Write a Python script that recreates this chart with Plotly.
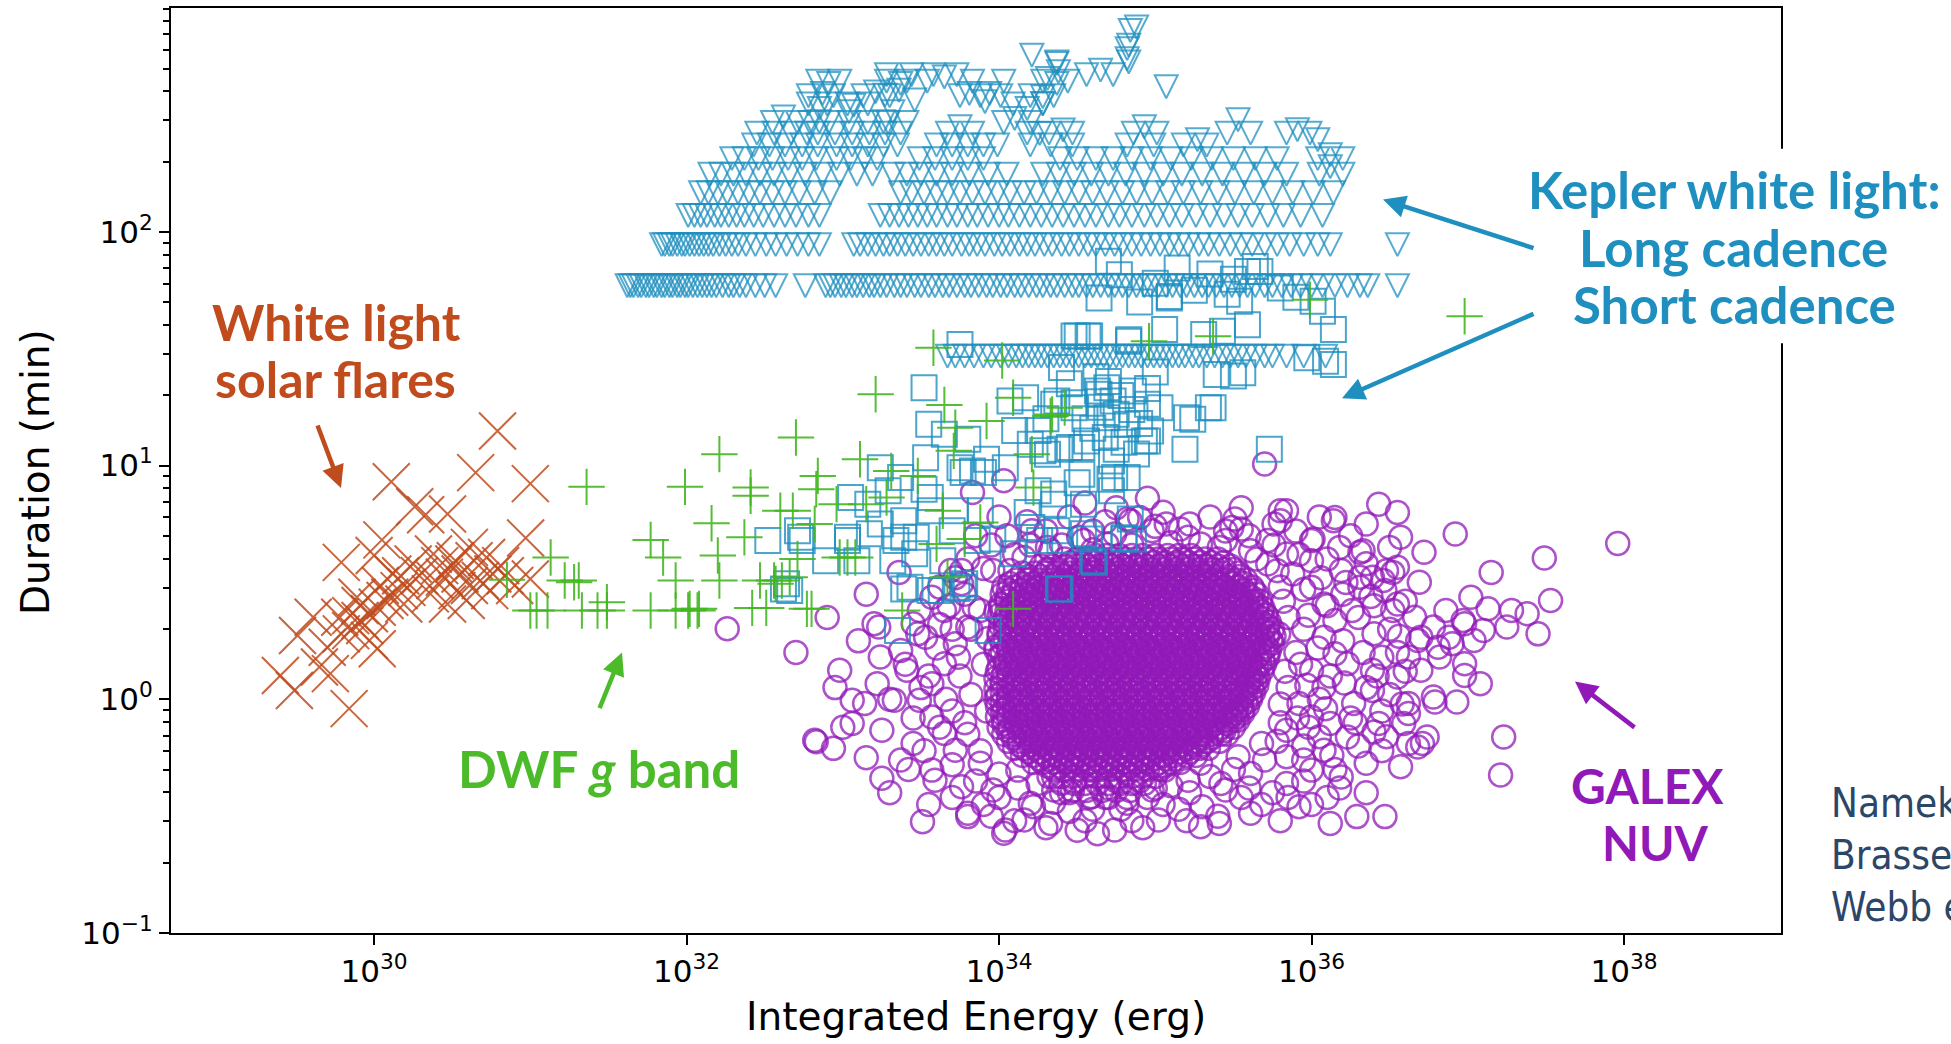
import plotly.graph_objects as go

# ---------------- data (log10 energy [erg], log10 duration [min]) ----------------
solar_pts = [(30.79,1.148),(30.11,0.931),(30.65,0.970),(31.00,0.923),(30.26,0.824),(30.33,0.790),(30.47,0.793),
 (30.05,0.682),(30.97,0.690),(29.79,0.586),(30.00,0.615),(30.25,0.579),(30.42,0.572),(30.45,0.522),(30.55,0.536),
 (30.64,0.593),(30.72,0.607),(30.68,0.508),(30.76,0.536),(31.00,0.515),(30.16,0.465),(30.10,0.437),(30.02,0.394),
 (29.97,0.366),(29.91,0.337),(29.85,0.294),(29.79,0.280),(29.51,0.273),(30.53,0.465),(30.59,0.423),(30.47,0.408),
 (30.36,0.451),(30.19,0.408),(29.97,0.252),(30.02,0.216),(29.70,0.223),(29.72,0.110),(29.65,0.138),(29.40,0.102),
 (29.49,0.038),(29.84,-0.040),(29.61,0.351),(30.12,0.536),(30.21,0.479),(30.61,0.650),(30.38,0.622),(30.51,0.579),
 (29.89,0.437),(29.78,0.351),(30.29,0.529),(30.39,0.508),(30.52,0.593),(30.81,0.572),(30.90,0.487),(30.07,0.423),
 (29.91,0.401),(29.85,0.358),(29.94,0.316),(30.04,0.487),(30.17,0.529),(30.61,0.487),(30.74,0.465),(30.84,0.529)]

dwf_pts = [(31.36,0.909),(31.99,0.909),(32.21,1.049),(32.41,0.906),(32.41,0.871),(32.16,0.753),(32.37,0.693),
 (31.77,0.682),(31.85,0.607),(32.20,0.615),(31.13,0.607),(30.85,0.511),(31.22,0.508),(31.31,0.508),(31.28,0.501),
 (31.93,0.508),(32.21,0.508),(32.47,0.508),(32.57,0.494),(31.49,0.415),(31.00,0.380),(31.04,0.380),(31.11,0.380),
 (31.33,0.380),(31.43,0.380),(31.49,0.380),(31.77,0.380),(31.93,0.380),(32.01,0.380),(32.07,0.380),(32.42,0.391),
 (32.51,0.391),(33.58,1.504),(34.02,1.450),(34.96,1.532),(33.21,1.305),(33.65,1.259),(34.09,1.290),(34.42,1.248),
 (34.33,1.212),(33.92,1.191),(33.72,1.162),(32.70,1.120),(33.71,1.063),(34.21,1.049),(33.11,1.027),(33.31,0.977),
 (32.84,0.956),(33.48,0.956),(32.83,0.899),(34.22,0.906),(32.96,0.835),(33.28,0.863),(32.60,0.807),(32.68,0.807),
 (33.15,0.835),(33.64,0.807),(33.88,0.757),(33.78,0.686),(33.60,0.665),(32.82,0.750),(32.71,0.600),(32.98,0.607),
 (33.03,0.607),(33.08,0.607),(32.56,0.508),(32.61,0.508),(32.66,0.522),(33.67,0.522),(32.02,0.387),(32.08,0.387),
 (32.77,0.387),(32.80,0.387),(33.38,0.380),(34.09,0.387),(35.99,1.710),(36.98,1.639),(35.37,1.553),(34.34,1.219)]

sc_pts = [(33.75,1.518),(33.52,1.333),(34.50,1.554),(34.57,1.554),(34.83,1.539),(33.55,1.177),(33.65,1.134),
 (33.80,1.113),(34.07,1.276),(34.17,1.290),(34.37,1.276),(34.48,1.248),(34.63,1.319),(34.73,1.276),(34.69,1.205),
 (34.82,1.177),(34.97,1.148),(34.20,1.091),(34.28,1.063),(34.45,1.077),(34.56,1.105),(34.75,1.070),(34.93,1.105),
 (33.92,1.027),(33.75,0.991),(33.53,1.034),(33.77,0.970),(33.83,0.977),(33.90,0.970),(34.04,0.991),(33.24,0.991),
 (33.37,0.949),(33.52,0.899),(33.56,0.863),(33.29,0.892),(33.16,0.835),(33.05,0.863),(34.25,0.892),(34.35,0.835),
 (34.50,0.927),(34.71,0.942),(34.82,0.949),(34.54,0.835),(34.18,0.799),(33.88,0.807),(33.72,0.807),(33.56,0.807),
 (33.39,0.764),(33.24,0.750),(33.03,0.693),(32.73,0.693),(32.71,0.721),(33.39,0.693),(33.47,0.693),(33.70,0.721),
 (33.96,0.686),(34.21,0.735),(34.37,0.721),(34.58,0.686),(34.86,0.686),(33.09,0.593),(32.89,0.593),(32.64,0.494),
 (32.62,0.472),(33.39,0.472),(33.56,0.465),(33.78,0.494),(34.39,0.472),(34.61,0.586),(33.93,0.294),(33.35,0.294),
 (33.32,0.593),(33.43,0.479),(33.77,0.479),(32.66,0.465),(32.52,0.679),(34.48,1.554),(34.58,1.554),(34.83,1.532),
 (35.06,1.582),(35.31,1.561),(35.43,1.575),(35.59,1.603),(36.07,1.660),(36.14,1.582),(36.09,1.447),(34.64,1.717),
 (35.09,1.724),(35.54,1.703),(35.39,1.390),(35.56,1.397),(34.35,1.262),(34.48,1.269),(34.69,1.333),(34.86,1.319),
 (34.95,1.262),(35.03,1.248),(35.24,1.198),(35.37,1.248),(35.19,1.070),(34.95,1.105),(34.53,1.077),(34.39,1.070),
 (34.31,1.049),(34.53,0.963),(34.74,0.949),(34.72,0.892),(34.35,0.878),(35.73,1.070),(34.84,0.771),(34.39,0.679),
 (34.60,0.593),(34.38,0.472),(34.80,0.686),(35.14,1.845),(34.77,1.817),(35.59,1.831),(35.67,1.831),(35.50,1.797),
 (35.09,1.717),(36.01,1.703),(34.70,1.874),(35.64,1.852),(35.46,1.733),(36.14,1.433),(35.97,1.461),(35.50,1.383),
 (35.34,1.248),(35.20,1.205),(34.64,1.305),(32.74,0.679),(33.03,0.679),(33.17,0.708),(33.34,0.679),(33.46,0.623),
 (33.64,0.593),(33.86,0.679),(34.09,0.623),(34.26,0.679),(34.54,0.708),(34.80,0.691),(33.63,0.465),(33.73,0.474),
 (34.62,1.38),(34.70,1.36),(34.78,1.30),(34.65,1.25),(34.75,1.22),(34.85,1.24),(34.90,1.18),(34.60,1.16),
 (34.68,1.12),(34.80,1.10),(34.88,1.05),(34.72,1.02),(34.55,1.20),(34.95,1.33),(35.00,1.40),(34.40,1.42),
 (34.45,1.35),(34.30,1.20),(34.25,1.15),(34.10,1.15),(35.00,1.78),(35.25,1.75),(35.35,1.82),(35.80,1.76),
 (35.90,1.72),(34.90,1.70)]

# Kepler long cadence: durations are whole numbers of 29.4-min cadences
lc_cadence_min = 29.4
lc_cadences = [1, 2, 3, 4, 5, 6, 7, 8, 9, 10, 12, 13, 15, 16]
lc_row_logE = [
 [33.67,33.72,33.78,33.84,33.90,33.95,34.01,34.06,34.11,34.15,34.19,34.23,34.27,34.31,34.35,34.39,34.43,34.47,34.51,
  34.55,34.59,34.63,34.67,34.71,34.75,34.79,34.83,34.87,34.91,34.95,34.99,35.03,35.07,35.11,35.15,35.19,35.24,35.28,
  35.33,35.38,35.43,35.48,35.53,35.58,35.64,35.70,35.75,35.84,35.95,36.09],
 [31.62,31.64,31.66,31.69,31.71,31.74,31.76,31.79,31.81,31.84,31.86,31.89,31.91,31.94,31.96,31.99,32.01,32.04,32.07,
  32.10,32.13,32.16,32.19,32.23,32.27,32.30,32.34,32.38,32.44,32.50,32.57,32.76,32.89,32.92,32.95,32.99,33.02,33.06,
  33.09,33.13,33.17,33.20,33.24,33.28,33.33,33.37,33.41,33.46,33.50,33.55,33.59,33.64,33.68,33.73,33.78,33.82,33.87,
  33.92,33.96,34.01,34.05,34.10,34.14,34.19,34.24,34.28,34.33,34.37,34.42,34.47,34.51,34.56,34.60,34.65,34.70,34.74,
  34.79,34.83,34.88,34.93,34.97,35.02,35.07,35.11,35.16,35.20,35.25,35.30,35.34,35.39,35.44,35.49,35.54,35.59,35.64,
  35.70,35.75,35.81,35.87,35.93,36.00,36.07,36.15,36.23,36.31,36.36,36.55],
 [31.84,31.86,31.89,31.91,31.94,31.97,31.99,32.02,32.05,32.08,32.11,32.14,32.17,32.21,32.25,32.29,32.33,32.38,32.44,
  32.51,32.57,32.64,32.71,32.78,32.85,33.07,33.11,33.16,33.21,33.26,33.30,33.35,33.40,33.45,33.50,33.55,33.60,33.65,
  33.70,33.76,33.81,33.86,33.91,33.97,34.02,34.07,34.13,34.18,34.23,34.29,34.34,34.40,34.45,34.51,34.57,34.62,34.68,
  34.74,34.79,34.85,34.91,34.97,35.03,35.09,35.15,35.21,35.28,35.34,35.41,35.48,35.55,35.62,35.70,35.78,35.86,35.95,
  36.04,36.12,36.55],
 [32.01,32.05,32.09,32.13,32.18,32.22,32.27,32.32,32.37,32.43,32.49,32.56,32.63,32.70,32.78,32.85,33.24,33.30,33.36,
  33.42,33.48,33.54,33.60,33.67,33.73,33.80,33.86,33.93,34.00,34.06,34.13,34.20,34.27,34.34,34.41,34.48,34.55,34.62,
  34.70,34.77,34.85,34.93,35.01,35.09,35.17,35.26,35.35,35.44,35.53,35.62,35.72,35.82,35.93,36.07],
 [32.09,32.14,32.20,32.26,32.33,32.40,32.47,32.55,32.63,32.72,32.82,32.92,33.37,33.44,33.52,33.60,33.67,33.75,33.83,
  33.91,33.99,34.07,34.16,34.24,34.33,34.42,34.51,34.60,34.69,34.79,34.88,34.98,35.08,35.18,35.29,35.40,35.51,35.63,
  35.75,35.88,36.01,36.14],
 [32.15,32.22,32.30,32.38,32.47,32.56,32.66,32.76,32.87,32.98,33.09,33.19,33.32,33.41,33.50,33.60,33.70,33.81,33.93,
  34.05,34.28,34.38,34.48,34.59,34.70,34.81,34.93,35.05,35.17,35.30,35.43,35.57,35.70,35.84,36.05,36.20],
 [32.29,32.37,32.46,32.55,32.65,32.74,32.83,32.96,33.05,33.14,33.22,33.49,33.59,33.70,33.80,33.90,34.39,34.50,34.62,
  34.73,34.85,34.97,35.10,35.23,35.36,35.50,35.64,35.78,36.04,36.20],
 [32.43,32.53,32.63,32.74,32.84,32.96,33.06,33.16,33.26,33.35,33.60,33.70,33.80,33.90,33.99,34.20,34.33,34.47,34.82,
  34.99,35.18,35.33],
 [32.45,32.56,32.67,32.77,32.84,32.95,33.06,33.17,33.27,33.37,33.67,33.83,34.18,34.32,34.47,34.86,35.01,35.46,35.61,
  35.84,35.99],
 [32.55,32.71,32.79,32.91,33.04,33.16,33.29,33.41,34.03,34.20],
 [32.78,32.90,33.03,33.16,34.09,34.28],
 [32.78,32.94,33.13,33.30,33.75,33.88,34.01,34.20,34.35],
 [32.84,32.98,33.28,33.41,33.54,33.83,34.03,34.28,34.44],
 [33.28,33.44,33.58,33.73,34.56,34.73]]
lc_extra_pts = [(34.21,2.756),(34.37,2.727),(34.38,2.685),(34.31,2.656),(34.37,2.635),(34.65,2.692),(33.65,2.663),
 (33.81,2.592),(33.94,2.592),(33.91,2.557),(34.28,2.578),(34.28,2.549),(34.18,2.528),(34.10,2.485),(34.26,2.421),
 (34.41,2.436),(32.91,2.635),(32.87,2.592),(33.21,2.599),(33.37,2.635),(33.36,2.606),(33.46,2.564),(33.27,2.585),
 (33.07,2.542),(32.85,2.528),(32.62,2.492),(33.32,2.514),(33.26,2.471),(32.85,2.471),(33.04,2.514),(33.75,2.450),
 (34.84,2.862),(34.82,2.784),(34.37,2.720),(34.83,2.727),(35.07,2.621),(34.88,2.877),(34.83,2.799),(34.82,2.741),
 (35.53,2.480),(34.93,2.450),(35.91,2.437),(35.27,2.394),(36.04,2.394),(36.12,2.330),(36.12,2.279)]

# GALEX NUV: saturated core read as rows of constant duration, plus the scattered outskirts
galex_core_logD = [0.615,0.60,0.585,0.57,0.555,0.54,0.525,0.51,0.495,0.48,0.465,0.45,0.435,0.42,
 0.405,0.39,0.375,0.36,0.345,0.33,0.315,0.30,0.285,0.27,0.255,0.24,0.225,0.21,0.195,0.18,0.165,0.15,0.135,0.12,
 0.105,0.09,0.075,0.06,0.045,0.03,0.015,0.00,-0.015,-0.03,-0.045,-0.06,-0.075,-0.09,-0.105,-0.12,-0.135,-0.15,
 -0.165,-0.18,-0.195,-0.21,-0.225,-0.24,-0.255,-0.27,-0.285,-0.30,-0.33,-0.36,-0.39,-0.42]
galex_core_logE = [
 [34.62,34.69,34.77,34.85,34.92,35.00,35.08,35.15,35.23],
 [34.42,34.50,34.57,34.65,34.72,34.80,34.87,34.95,35.02,35.10,35.17,35.25,35.32,35.40],
 [34.46,34.54,34.61,34.69,34.76,34.84,34.91,34.99,35.06,35.14,35.21,35.29,35.36,35.44],
 [34.27,34.34,34.42,34.49,34.57,34.64,34.72,34.79,34.87,34.94,35.02,35.09,35.17,35.24,35.32,35.40,35.48],
 [34.31,34.38,34.46,34.53,34.61,34.68,34.76,34.83,34.91,34.98,35.06,35.13,35.21,35.28,35.36,35.44,35.50],
 [34.15,34.23,34.30,34.38,34.45,34.53,34.60,34.68,34.75,34.83,34.90,34.98,35.05,35.13,35.20,35.28,35.35,35.43,35.53],
 [34.19,34.27,34.34,34.42,34.49,34.57,34.64,34.72,34.79,34.87,34.94,35.02,35.09,35.17,35.24,35.32,35.39,35.47,35.54],
 [34.11,34.19,34.26,34.34,34.41,34.49,34.56,34.64,34.71,34.79,34.86,34.94,35.01,35.09,35.16,35.24,35.31,35.39,35.46,35.52,35.58],
 [34.07,34.15,34.22,34.30,34.37,34.45,34.52,34.60,34.67,34.75,34.82,34.90,34.97,35.05,35.12,35.20,35.27,35.35,35.42,35.50,35.57],
 [34.03,34.10,34.18,34.25,34.33,34.40,34.48,34.55,34.63,34.70,34.78,34.85,34.93,35.00,35.08,35.15,35.23,35.30,35.38,35.45,35.53,35.62],
 [34.06,34.14,34.21,34.29,34.36,34.44,34.51,34.59,34.66,34.74,34.81,34.89,34.96,35.04,35.11,35.19,35.26,35.34,35.41,35.49,35.57,35.63],
 [34.02,34.09,34.17,34.24,34.32,34.39,34.47,34.54,34.62,34.69,34.77,34.84,34.92,34.99,35.07,35.14,35.22,35.29,35.37,35.44,35.52,35.59,35.65],
 [34.05,34.13,34.20,34.28,34.35,34.43,34.50,34.58,34.65,34.73,34.80,34.88,34.95,35.03,35.10,35.18,35.25,35.33,35.40,35.48,35.55,35.62],
 [34.05,34.12,34.20,34.27,34.35,34.42,34.50,34.57,34.65,34.72,34.80,34.87,34.95,35.02,35.10,35.17,35.25,35.32,35.40,35.47,35.55,35.62,35.67],
 [34.01,34.09,34.16,34.24,34.31,34.39,34.46,34.54,34.61,34.69,34.76,34.84,34.91,34.99,35.06,35.14,35.21,35.29,35.36,35.44,35.51,35.59,35.65],
 [34.01,34.08,34.16,34.23,34.31,34.38,34.46,34.53,34.61,34.68,34.76,34.83,34.91,34.98,35.06,35.13,35.21,35.28,35.36,35.43,35.51,35.58,35.65,35.69],
 [33.98,34.05,34.12,34.20,34.27,34.35,34.42,34.50,34.57,34.65,34.72,34.80,34.87,34.95,35.02,35.10,35.17,35.25,35.32,35.40,35.47,35.55,35.62,35.68],
 [34.00,34.08,34.15,34.23,34.30,34.38,34.45,34.53,34.60,34.68,34.75,34.83,34.90,34.98,35.05,35.13,35.20,35.28,35.35,35.43,35.50,35.58,35.65,35.71],
 [34.04,34.12,34.19,34.27,34.34,34.42,34.49,34.57,34.64,34.72,34.79,34.87,34.94,35.02,35.09,35.17,35.24,35.32,35.39,35.47,35.54,35.62,35.69],
 [34.04,34.12,34.19,34.27,34.34,34.42,34.49,34.57,34.64,34.72,34.79,34.87,34.94,35.02,35.09,35.17,35.24,35.32,35.39,35.47,35.54,35.62,35.68,35.73],
 [34.01,34.08,34.16,34.23,34.31,34.38,34.46,34.53,34.61,34.68,34.76,34.83,34.91,34.98,35.06,35.13,35.21,35.28,35.36,35.43,35.51,35.58,35.66,35.72],
 [34.04,34.11,34.19,34.26,34.34,34.41,34.49,34.56,34.64,34.71,34.79,34.86,34.94,35.01,35.09,35.16,35.24,35.31,35.39,35.46,35.54,35.61,35.69,35.75],
 [34.00,34.08,34.15,34.23,34.30,34.38,34.45,34.53,34.60,34.68,34.75,34.83,34.90,34.98,35.05,35.13,35.20,35.28,35.35,35.43,35.50,35.58,35.65,35.72],
 [34.00,34.08,34.15,34.23,34.30,34.38,34.45,34.53,34.60,34.68,34.75,34.83,34.90,34.98,35.05,35.13,35.20,35.28,35.35,35.43,35.50,35.58,35.65,35.72,35.76],
 [34.04,34.12,34.19,34.27,34.34,34.42,34.49,34.57,34.64,34.72,34.79,34.87,34.94,35.02,35.09,35.17,35.24,35.32,35.39,35.47,35.54,35.62,35.69,35.74],
 [34.02,34.09,34.17,34.24,34.32,34.39,34.47,34.54,34.62,34.69,34.77,34.84,34.92,34.99,35.07,35.14,35.22,35.29,35.37,35.44,35.52,35.59,35.67,35.75],
 [33.98,34.06,34.13,34.21,34.28,34.36,34.43,34.51,34.58,34.66,34.73,34.81,34.88,34.96,35.03,35.11,35.18,35.26,35.33,35.41,35.48,35.56,35.63,35.71],
 [33.98,34.06,34.13,34.21,34.28,34.36,34.43,34.51,34.58,34.66,34.73,34.81,34.88,34.96,35.03,35.11,35.18,35.26,35.33,35.41,35.48,35.56,35.63,35.69,35.73],
 [34.02,34.10,34.17,34.25,34.32,34.40,34.47,34.55,34.62,34.70,34.77,34.85,34.92,35.00,35.07,35.15,35.22,35.30,35.37,35.45,35.52,35.60,35.67,35.72],
 [34.00,34.07,34.15,34.22,34.30,34.37,34.45,34.52,34.60,34.67,34.75,34.82,34.90,34.97,35.05,35.12,35.20,35.27,35.35,35.42,35.50,35.57,35.65,35.72],
 [34.04,34.11,34.19,34.26,34.34,34.41,34.49,34.56,34.64,34.71,34.79,34.86,34.94,35.01,35.09,35.16,35.24,35.31,35.39,35.46,35.54,35.61,35.69],
 [34.04,34.11,34.19,34.26,34.34,34.41,34.49,34.56,34.64,34.71,34.79,34.86,34.94,35.01,35.09,35.16,35.24,35.31,35.39,35.46,35.54,35.61,35.67,35.70],
 [34.00,34.08,34.15,34.23,34.30,34.38,34.45,34.53,34.60,34.68,34.75,34.83,34.90,34.98,35.05,35.13,35.20,35.28,35.35,35.43,35.50,35.58,35.65],
 [33.99,34.06,34.14,34.21,34.29,34.36,34.44,34.51,34.59,34.66,34.74,34.81,34.89,34.96,35.04,35.11,35.19,35.26,35.34,35.41,35.49,35.56,35.63,35.68],
 [34.03,34.10,34.18,34.25,34.33,34.40,34.48,34.55,34.63,34.70,34.78,34.85,34.93,35.00,35.08,35.15,35.23,35.30,35.38,35.45,35.53,35.60,35.65],
 [33.98,34.06,34.13,34.21,34.28,34.36,34.43,34.51,34.58,34.66,34.73,34.81,34.88,34.96,35.03,35.11,35.18,35.26,35.33,35.41,35.48,35.56,35.62,35.66],
 [34.02,34.10,34.17,34.25,34.32,34.40,34.47,34.55,34.62,34.70,34.77,34.85,34.92,35.00,35.07,35.15,35.22,35.30,35.37,35.45,35.52,35.60,35.64],
 [34.02,34.09,34.17,34.24,34.32,34.39,34.47,34.54,34.62,34.69,34.77,34.84,34.92,34.99,35.07,35.14,35.22,35.29,35.37,35.44,35.52,35.59,35.65],
 [33.98,34.06,34.13,34.21,34.28,34.36,34.43,34.51,34.58,34.66,34.73,34.81,34.88,34.96,35.03,35.11,35.18,35.26,35.33,35.41,35.48,35.56,35.62],
 [34.02,34.10,34.17,34.25,34.32,34.40,34.47,34.55,34.62,34.70,34.77,34.85,34.92,35.00,35.07,35.15,35.22,35.30,35.37,35.45,35.52,35.58,35.63],
 [33.99,34.06,34.14,34.21,34.29,34.36,34.44,34.51,34.59,34.66,34.74,34.81,34.89,34.96,35.04,35.11,35.19,35.26,35.34,35.41,35.49,35.56,35.61],
 [33.98,34.06,34.13,34.21,34.28,34.36,34.43,34.51,34.58,34.66,34.73,34.81,34.88,34.96,35.03,35.11,35.18,35.26,35.33,35.41,35.48,35.55,35.61],
 [34.02,34.10,34.17,34.25,34.32,34.40,34.47,34.55,34.62,34.70,34.77,34.85,34.92,35.00,35.07,35.15,35.22,35.30,35.37,35.45,35.52,35.58],
 [33.99,34.06,34.14,34.21,34.29,34.36,34.44,34.51,34.59,34.66,34.74,34.81,34.89,34.96,35.04,35.11,35.19,35.26,35.34,35.41,35.49,35.55,35.59],
 [34.03,34.10,34.18,34.25,34.33,34.40,34.48,34.55,34.63,34.70,34.78,34.85,34.93,35.00,35.08,35.15,35.23,35.30,35.38,35.45,35.52,35.56],
 [34.02,34.10,34.17,34.25,34.32,34.40,34.47,34.55,34.62,34.70,34.77,34.85,34.92,35.00,35.07,35.15,35.22,35.30,35.37,35.45,35.51,35.56],
 [33.99,34.06,34.14,34.21,34.29,34.36,34.44,34.51,34.59,34.66,34.74,34.81,34.89,34.96,35.04,35.11,35.19,35.26,35.34,35.41,35.48,35.52],
 [34.03,34.10,34.18,34.25,34.33,34.40,34.48,34.55,34.63,34.70,34.78,34.85,34.93,35.00,35.08,35.15,35.23,35.30,35.38,35.45,35.50,35.53],
 [34.03,34.11,34.18,34.26,34.33,34.41,34.48,34.56,34.63,34.71,34.78,34.86,34.93,35.01,35.08,35.16,35.23,35.31,35.38,35.46],
 [34.00,34.07,34.15,34.22,34.30,34.37,34.45,34.52,34.60,34.67,34.75,34.82,34.90,34.97,35.05,35.12,35.20,35.27,35.35,35.42,35.50],
 [34.06,34.13,34.20,34.28,34.35,34.43,34.50,34.58,34.65,34.73,34.80,34.88,34.95,35.03,35.10,35.18,35.25,35.33,35.40,35.44],
 [34.03,34.09,34.16,34.24,34.31,34.39,34.46,34.54,34.61,34.69,34.76,34.84,34.91,34.99,35.06,35.14,35.21,35.29,35.36,35.42,35.46],
 [34.09,34.17,34.24,34.32,34.39,34.47,34.54,34.62,34.69,34.77,34.84,34.92,34.99,35.07,35.14,35.22,35.29,35.36],
 [34.06,34.13,34.21,34.28,34.36,34.43,34.51,34.58,34.66,34.73,34.81,34.88,34.96,35.03,35.11,35.18,35.26,35.33,35.41],
 [34.13,34.20,34.27,34.35,34.42,34.50,34.57,34.65,34.72,34.80,34.87,34.95,35.02,35.10,35.17,35.25,35.30],
 [34.10,34.16,34.23,34.31,34.38,34.46,34.53,34.61,34.68,34.76,34.83,34.91,34.98,35.06,35.13,35.21,35.28,35.34],
 [34.19,34.26,34.34,34.41,34.49,34.56,34.64,34.71,34.79,34.86,34.94,35.01,35.09,35.16,35.22],
 [34.15,34.22,34.30,34.37,34.45,34.52,34.60,34.67,34.75,34.82,34.90,34.97,35.05,35.12,35.20,35.26],
 [34.26,34.32,34.39,34.47,34.54,34.62,34.69,34.77,34.84,34.92,34.99,35.07,35.13],
 [34.22,34.28,34.35,34.43,34.50,34.58,34.65,34.73,34.80,34.88,34.95,35.03,35.10,35.16],
 [34.31,34.39,34.46,34.54,34.61,34.69,34.76,34.84,34.91,34.99,35.06],
 [34.35,34.42,34.50,34.57,34.65,34.72,34.80,34.87,34.95,35.03],
 [34.32,34.40,34.47,34.55,34.62,34.70,34.77,34.85,34.92,35.00],
 [34.40,34.48,34.55,34.63,34.70,34.78,34.85,34.93],
 [34.47,34.56,34.66,34.75,34.84],
 [34.58,34.70,34.82]]
galex_pts = [(37.96,0.667),(37.49,0.605),(37.15,0.543),(36.92,0.707),(36.55,0.799),(36.43,0.835),(36.14,0.764),
 (35.80,0.807),(35.51,0.771),(36.72,0.629),(36.57,0.693),(37.53,0.423),(37.45,0.280),(37.25,0.309),(37.02,0.437),
 (37.08,0.067),(36.98,0.102),(36.78,0.010),(36.62,-0.018),(37.23,-0.161),(37.21,-0.324),(36.68,-0.204),(36.57,-0.289),
 (36.35,-0.274),(36.47,-0.502),(36.29,-0.502),(36.12,-0.531),(35.92,-0.460),(35.61,-0.488),(35.41,-0.531),
 (35.29,-0.545),(35.02,-0.516),(34.74,-0.559),(34.63,-0.575),(34.33,-0.531),(34.16,-0.516),(34.04,-0.559),
 (33.80,-0.488),(33.51,-0.524),(33.25,-0.338),(33.59,-0.346),(32.82,-0.175),(32.94,-0.210),(32.98,0.124),
 (33.06,-0.004),(33.24,0.181),(33.20,0.323),(35.70,1.007),(36.69,0.501),(37.13,0.387),(37.28,0.380),(37.38,0.366),
 (36.97,0.337),(36.88,0.266),(36.81,0.223),(36.68,0.252),(37.04,0.252),(36.93,-0.012),(36.79,-0.012),(36.71,-0.189),
 (35.76,0.750),(35.55,0.729),(36.50,0.650),(36.31,0.629),(36.01,0.686),(36.52,0.543),(36.46,0.508),(36.31,0.522),
 (34.90,0.778),(34.82,0.771),(35.07,0.750),(35.16,0.729),(35.29,0.665),(34.54,0.679),(34.69,0.665),(34.33,0.636),
 (32.26,0.302),(33.83,0.885),(34.03,0.935),(34.21,0.721),(33.36,0.543),(33.76,0.551),(34.84,0.764),(33.23,0.309),
 (34.07,0.551),(32.83,-0.182),(33.80,-0.502),(34.03,-0.573),
 (36.15,0.778),(35.84,0.807),(35.80,0.764),(35.49,0.735),(36.33,0.636),(36.55,0.565),(36.39,0.522),(36.00,0.679),
 (35.84,0.622),(36.00,0.593),(36.19,0.551),(36.31,0.479),(36.47,0.465),(36.55,0.408),(36.66,0.351),(36.86,0.380),
 (36.98,0.323),(37.10,0.294),(36.78,0.309),(36.70,0.266),(36.90,0.238),(36.62,0.181),(36.82,0.181),(36.98,0.152),
 (36.70,0.124),(36.55,0.095),(36.39,0.124),(36.23,0.152),(36.39,0.038),(36.27,-0.018),(36.62,-0.061),(36.59,-0.104),
 (36.74,-0.161),(36.62,-0.189),(36.43,-0.104),(36.23,-0.161),(36.12,-0.104),(36.08,-0.218),(35.84,-0.246),
 (36.00,-0.303),(36.19,-0.332),(35.84,-0.360),(35.61,-0.317),(35.45,-0.388),(35.21,-0.346),(34.98,-0.388),
 (34.82,-0.445),(34.59,-0.417),(34.35,-0.388),(34.20,-0.445),(33.96,-0.388),(33.76,-0.374),(33.57,-0.303),
 (33.37,-0.260),(33.45,-0.189),(33.25,-0.132),(33.06,-0.104),(33.14,-0.018),(33.33,-0.004),(33.22,0.067),
 (33.41,0.124),(33.37,0.209),(33.53,0.266),(33.45,0.323),(33.65,0.380),(33.57,0.437),(33.76,0.494),(33.96,0.551),
 (34.16,0.607),(34.31,0.650),(34.51,0.693),(34.74,0.707),(34.98,0.721),(35.21,0.693),(35.41,0.650),(35.61,0.636),
 (35.72,0.579),(35.88,0.536),(36.00,0.479),(36.08,0.408),(36.15,0.337),(36.08,0.266),(36.15,0.195),(36.00,0.124),
 (36.08,0.052),(35.92,-0.018),(36.00,-0.076),(35.84,-0.132),(35.68,-0.189),(35.53,-0.246),(35.29,-0.274),
 (35.06,-0.303),(34.82,-0.317),(34.59,-0.303),(34.35,-0.332),(34.12,-0.303),(33.88,-0.274),(33.72,-0.218),
 (33.65,-0.146),(33.57,-0.076),(33.49,-0.004),(33.57,0.067),(33.65,0.152),(33.72,0.238),(33.80,0.309),(33.84,0.394),
 (33.49,0.380),(33.69,0.551),
 (33.78,0.45),(33.70,0.30),(33.75,0.10),(33.70,-0.05),(33.80,-0.15),(33.85,-0.35),(34.00,-0.32),(34.25,-0.36),
 (34.45,-0.40),(34.70,-0.38),(34.90,-0.35),(35.10,-0.37),(35.35,-0.33),(35.50,-0.30),(35.70,-0.26),(35.80,-0.10),
 (35.85,0.05),(35.90,0.20),(35.85,0.35),(35.80,0.48),(35.65,0.60),(35.45,0.68),(35.00,0.74),(34.60,0.72),
 (34.40,0.66),(34.10,0.62),(33.90,0.56),(35.95,0.30),(36.05,0.00),(35.95,-0.20),
 (36.20,0.25),(36.30,0.35),(36.40,0.28),(36.45,0.18),(36.50,0.30),(36.35,0.05),(36.25,-0.08),(36.45,-0.05),
 (36.55,0.20),(36.60,0.42),(36.40,0.40),(36.20,0.45),(36.10,0.60),(36.25,0.70),(36.35,0.75),(36.50,0.02),
 (36.30,-0.20),(36.45,-0.22),(36.15,-0.30),(36.35,-0.40),
 (33.55,-0.45),(33.30,-0.40),(33.95,-0.50),(34.45,-0.48),(34.85,-0.52),(35.15,-0.47),(35.55,-0.42),(35.75,-0.40),
 (36.00,-0.45),(34.50,-0.56),(34.30,-0.55),(35.80,-0.52),
 (32.95,0.05),(33.10,0.25),(33.00,-0.12),(33.15,-0.25),(32.70,0.20),(32.90,0.35),(33.15,0.45),
 (35.78,0.55),(35.82,0.42),(35.79,0.28),(35.83,0.12),(35.80,-0.02),(35.78,-0.18),(35.76,0.66),
 (35.92,0.62),(35.95,0.47),(35.98,0.36),(35.93,0.15),(35.97,0.06),(35.91,-0.08),(35.95,-0.26),(35.98,-0.12),
 (36.06,0.52),(36.10,0.40),(36.04,0.22),(36.12,0.10),(36.09,-0.04),(36.05,-0.16),(36.13,-0.24),
 (36.18,0.65),(36.22,0.50),(36.26,0.38),(36.21,0.07),(36.28,-0.10),(36.18,-0.38),
 (36.35,0.58),(36.38,0.44),(36.33,0.20),(36.40,-0.14),(36.42,0.10),
 (36.48,0.55),(36.52,0.38),(36.56,0.27),(36.48,-0.16),(36.58,-0.02),(36.60,0.12),
 (33.80,0.60),(33.72,0.52),(33.62,0.48),(33.85,0.70),(33.68,0.40),(33.82,0.30),(33.60,0.22),(33.74,0.18),
 (33.55,0.10),(33.82,0.02),(33.66,0.00),(33.50,0.05),(33.78,-0.10),(33.62,-0.12),(33.45,-0.08),(33.88,-0.22),
 (33.70,-0.28),(33.52,-0.22),(33.40,0.15),(33.30,0.00),(33.42,-0.30),(33.62,0.32),(33.48,0.28),
 (34.00,-0.42),(34.12,-0.38),(34.22,-0.46),(34.35,-0.44),(34.48,-0.35),(34.60,-0.47),(34.68,-0.42),
 (34.78,-0.47),(34.95,-0.42),(35.05,-0.45),(35.22,-0.40),(35.30,-0.46),(35.42,-0.36),(35.60,-0.38),
 (35.68,-0.45),(35.85,-0.42),(35.95,-0.35),(34.10,-0.52),(34.55,-0.52),(34.92,-0.55),(35.40,-0.50),
 (33.90,-0.45),(33.70,-0.42),(36.10,-0.42),(35.20,-0.52),(34.75,-0.35),(35.00,-0.38),(34.40,-0.40),
 (34.05,0.70),(34.18,0.76),(34.30,0.72),(34.45,0.78),(34.55,0.84),(34.68,0.76),(34.75,0.82),(35.05,0.80),
 (35.22,0.75),(35.35,0.78),(35.45,0.72),(35.60,0.70),(35.72,0.68),(35.90,0.72),(36.05,0.78),(34.20,0.66),
 (35.55,0.82),(34.95,0.86),(33.95,0.66),(34.00,0.78),
 (33.90,0.15),(33.88,0.38),(33.92,-0.05),(33.93,0.26),(34.85,0.66),(35.10,0.67),(34.60,0.64)]

x_tick_exp = [30, 32, 34, 36, 38]
y_tick_exp = [-1, 0, 1, 2]
y_minor = [m * 10.0 ** e for e in (-1, 0, 1, 2) for m in range(2, 10)]

# ---------------- figure ----------------
W, H = 1951, 1044
L, R, T, B = 171, 170, 6, 111
PW, PH = W - L - R, H - T - B

def px(xp):
    return (xp - L) / PW

def py(yp):
    return (H - B - yp) / PH

ORANGE = "#C04B1D"
GREEN = "#42B620"
GREEN_T = "#4CBB2A"
TEAL = "#1E8FBF"
PURPLE = "#9119B8"
NAVY = "#2C4668"

def pow10(vals):
    return [10.0 ** v for v in vals]

g_x, g_y = [], []
for d, row in zip(galex_core_logD, galex_core_logE):
    g_x += row
    g_y += [d] * len(row)
g_x += [p[0] for p in galex_pts]
g_y += [p[1] for p in galex_pts]

lc_x, lc_y = [], []
for n, row in zip(lc_cadences, lc_row_logE):
    lc_x += pow10(row)
    lc_y += [n * lc_cadence_min] * len(row)
lc_x += pow10([p[0] for p in lc_extra_pts])
lc_y += pow10([p[1] for p in lc_extra_pts])

fig = go.Figure()

def add(xs, ys, symbol, size, color, opacity, lw=2.0, standoff=None):
    m = dict(symbol=symbol, size=size, color=color, opacity=opacity, line=dict(width=lw, color=color))
    if standoff is not None:
        m["standoff"] = standoff
    fig.add_trace(go.Scatter(x=xs, y=ys, mode="markers", hoverinfo="skip", showlegend=False, marker=m))

add(pow10(g_x), pow10(g_y), "circle-open", 23, PURPLE, 0.75, lw=2.5)
# matplotlib-style 'v' (as tall as wide), centred on the point
add(lc_x, lc_y, "arrow-down-open", 23, TEAL, 0.75, standoff=11.5)
add(pow10([p[0] for p in sc_pts]), pow10([p[1] for p in sc_pts]), "square-open", 25, TEAL, 0.8)
add(pow10([p[0] for p in solar_pts]), pow10([p[1] for p in solar_pts]), "x-thin-open", 37, ORANGE, 0.85)
add(pow10([p[0] for p in dwf_pts]), pow10([p[1] for p in dwf_pts]), "cross-thin-open", 26, GREEN, 0.9)

axis_common = dict(type="log", showgrid=False, zeroline=False, showline=True, linecolor="black",
                   linewidth=2, mirror=True, ticks="outside", ticklen=10, tickwidth=2,
                   tickcolor="black", tickfont=dict(family="DejaVu Sans", size=31, color="black"))
fig.update_xaxes(range=[28.70, 39.005], tickvals=[10.0 ** e for e in x_tick_exp],
                 ticktext=["10<sup>%d</sup>" % e for e in x_tick_exp], **axis_common)
fig.update_yaxes(range=[-1.0, 2.958], tickvals=[10.0 ** e for e in y_tick_exp],
                 ticktext=["10<sup>%s</sup>" % str(e).replace("-", "\u2212") for e in y_tick_exp],
                 minor=dict(tickvals=y_minor, ticks="outside", ticklen=6, tickwidth=1.5, tickcolor="black"),
                 **axis_common)

ann = []
NARROW = "Liberation Sans Narrow, DejaVu Sans Condensed, Roboto Condensed, Arial Narrow, sans-serif"

def text(t, cx, cy, color, size=50, family="Lato", xanchor="center", weight=True):
    ann.append(dict(text=("<b>%s</b>" % t) if weight else t, x=px(cx), y=py(cy), xref="paper", yref="paper",
                    xanchor=xanchor, yanchor="middle", showarrow=False,
                    font=dict(family=family, size=size, color=color)))

def arrow(hx, hy, tx, ty, color):
    ann.append(dict(text="", x=px(hx), y=py(hy), xref="paper", yref="paper", showarrow=True,
                    ax=tx - hx, ay=ty - hy, arrowhead=2, arrowsize=1.0, arrowwidth=4.5,
                    arrowcolor=color, standoff=0))

text("White light", 336, 321, ORANGE)
text("solar flares", 335, 378, ORANGE)
text("DWF <i>g</i> band", 599, 768, GREEN_T, size=51)
text("Kepler white light:", 1734, 188, TEAL, size=51)
text("Long cadence", 1733, 246, TEAL, size=51)
text("Short cadence", 1734, 303, TEAL, size=51)
text("GALEX", 1647, 785, PURPLE, size=48)
text("NUV", 1655, 842, PURPLE, size=48)
text("Namekata et al. 2017", 1829, 803, NAVY, size=40, family=NARROW, xanchor="left", weight=False)
text("Brasseur et al. 2019", 1829, 855, NAVY, size=40, family=NARROW, xanchor="left", weight=False)
text("Webb et al. 2021", 1829, 907, NAVY, size=40, family=NARROW, xanchor="left", weight=False)

arrow(341, 487, 317, 423, ORANGE)
arrow(622, 652, 599, 709, GREEN_T)
arrow(1383, 198, 1535, 247, TEAL)
arrow(1342, 397, 1535, 312, TEAL)
arrow(1575, 681, 1636, 728, PURPLE)

# axis titles
ann.append(dict(text="Integrated Energy (erg)", x=px(976), y=py(1017), xref="paper", yref="paper",
                xanchor="center", yanchor="middle", showarrow=False,
                font=dict(family="DejaVu Sans", size=39, color="black")))
ann.append(dict(text="Duration (min)", x=px(36), y=py(471), xref="paper", yref="paper", textangle=-90,
                xanchor="center", yanchor="middle", showarrow=False,
                font=dict(family="DejaVu Sans", size=39, color="black")))

fig.update_layout(
    width=W, height=H, margin=dict(l=L, r=R, t=T, b=B, pad=0),
    paper_bgcolor="white", plot_bgcolor="white", showlegend=False,
    annotations=ann,
    shapes=[dict(type="rect", xref="paper", yref="paper", x0=px(1545), x1=px(1960), y0=py(342), y1=py(147),
                 fillcolor="white", line=dict(width=0), layer="above")])

fig.write_html("out.html", config={"displayModeBar": False},
               post_script="document.body.style.margin='0px';document.body.style.overflow='hidden';")
